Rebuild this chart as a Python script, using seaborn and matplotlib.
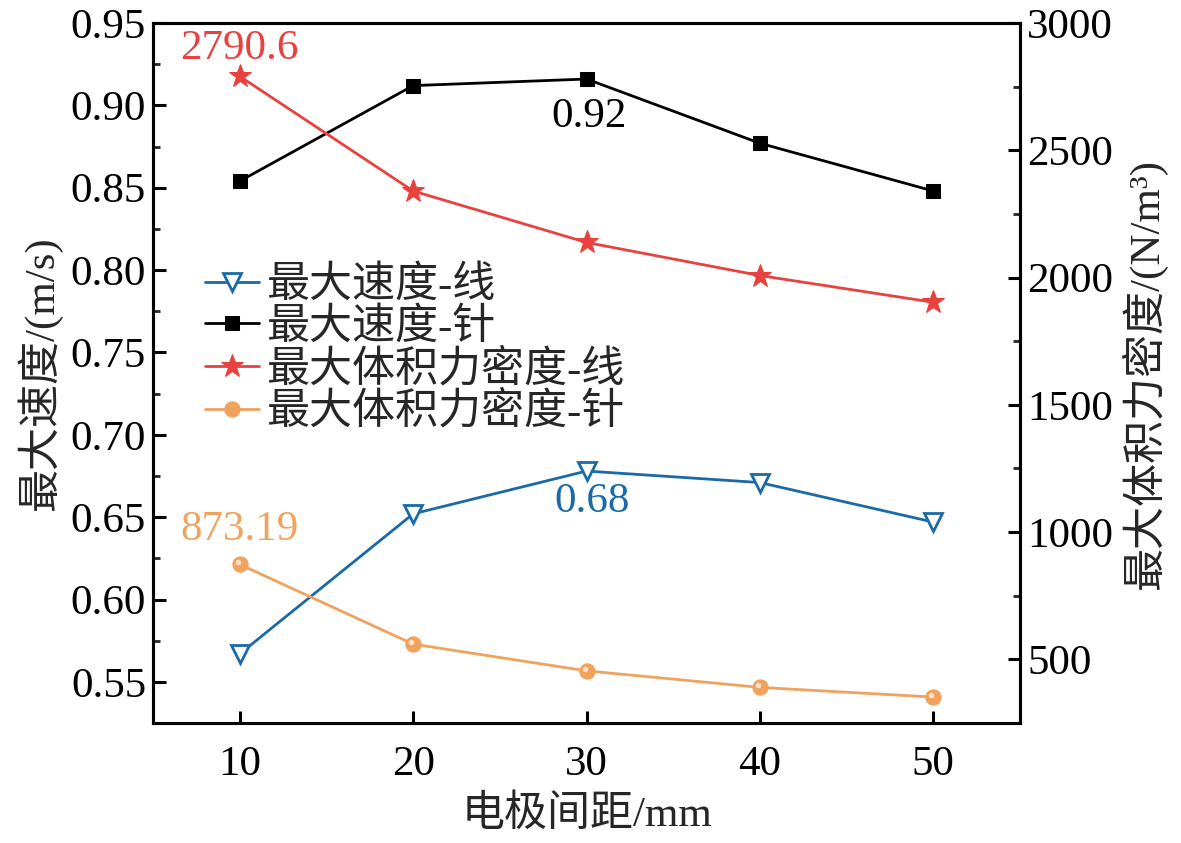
import matplotlib
matplotlib.use("Agg")
import matplotlib.pyplot as plt
import matplotlib.transforms as mtransforms
import seaborn as sns
import pandas as pd

# ---- data ----
spacing = [10, 20, 30, 40, 50]
speed_line = [0.567, 0.652, 0.678, 0.671, 0.647]
speed_needle = [0.854, 0.912, 0.916, 0.877, 0.848]
force_line = [2790.6, 2340, 2138, 2008, 1903]
force_needle = [873.19, 560, 455, 390, 352]

labels = ["最大速度-线", "最大速度-针", "最大体积力密度-线", "最大体积力密度-针"]
xlabel = "电极间距/mm"
ylabel_left = "最大速度/(m/s)"
ylabel_right = "最大体积力密度/(N/m³)"

c_blue = "#1a6aa8"
c_black = "#000000"
c_red = "#e8413e"
c_orange = "#f0a35e"

sns.set_theme(style="ticks")
plt.rcParams["font.family"] = ["Liberation Serif", "Noto Sans CJK SC"]
plt.rcParams["axes.unicode_minus"] = False

FS = 31
fig = plt.figure(figsize=(11.81, 8.43), dpi=100)
ax = fig.add_axes([0.1296, 0.1423, 0.7341, 0.8304])
ax2 = ax.twinx()

df = pd.DataFrame({"x": spacing, "sl": speed_line, "sn": speed_needle,
                   "fl": force_line, "fn": force_needle})

lw = 2.0
sns.lineplot(data=df, x="x", y="sl", ax=ax, color=c_blue, lw=lw, marker="v",
             markersize=13, markerfacecolor="white", markeredgecolor=c_blue,
             markeredgewidth=2.0, label=labels[0], legend=False)
sns.lineplot(data=df, x="x", y="sn", ax=ax, color=c_black, lw=lw, marker="s",
             markersize=10, markeredgecolor=c_black, label=labels[1], legend=False)
sns.lineplot(data=df, x="x", y="fl", ax=ax2, color=c_red, lw=lw, marker="*",
             markersize=17, markeredgecolor=c_red, label=labels[2], legend=False)
sns.lineplot(data=df, x="x", y="fn", ax=ax2, color=c_orange, lw=lw, marker="o",
             markersize=11, markeredgecolor=c_orange, label=labels[3], legend=False)
# highlight on the sphere markers
off = mtransforms.ScaledTranslation(-2/100, 2/100, fig.dpi_scale_trans)
ax2.plot(df["x"], df["fn"], ls="none", marker="o", markersize=4,
         color="#fbe0c6", markeredgewidth=0, transform=ax2.transData + off)

ax.set_xlim(5, 55)
ax.set_ylim(0.525, 0.95)
ax2.set_ylim(250, 3000)
ax.set_xticks(spacing)
yt = [0.55, 0.60, 0.65, 0.70, 0.75, 0.80, 0.85, 0.90, 0.95]
ax.set_yticks(yt)
ax.set_yticklabels([f"{v:.2f}" for v in yt])
ax.set_yticks([0.575, 0.625, 0.675, 0.725, 0.775, 0.825, 0.875, 0.925], minor=True)
ax2.set_yticks([500, 1000, 1500, 2000, 2500, 3000])
ax2.set_yticks([750, 1250, 1750, 2250, 2750], minor=True)

for a in (ax, ax2):
    for s in a.spines.values():
        s.set_linewidth(2.2)
        s.set_color("black")
    a.tick_params(which="major", direction="in", length=9, width=2.2,
                  labelsize=FS, colors="black", pad=5)
    a.tick_params(which="minor", direction="in", length=5, width=2.0)
ax.tick_params(axis="x", which="major", pad=16)
ax.tick_params(axis="y", which="both", right=False)
ax2.tick_params(axis="y", which="both", left=False)

ax.set_xlabel(xlabel, fontsize=FS, labelpad=8)
ax.set_ylabel(ylabel_left, fontsize=FS, labelpad=6)
ax2.set_ylabel(ylabel_right, fontsize=FS, labelpad=6, rotation=90)

# annotations
ax2.annotate(f"{force_line[0]}", (spacing[0], force_line[0]), xytext=(0, 20),
             textcoords="offset points", ha="center", va="center",
             color=c_red, fontsize=FS)
ax.annotate("0.92", (spacing[2], speed_needle[2]), xytext=(2, -27),
            textcoords="offset points", ha="center", va="center",
            color=c_black, fontsize=FS)
ax.annotate("0.68", (spacing[2], speed_line[2]), xytext=(4, -22),
            textcoords="offset points", ha="center", va="center",
            color=c_blue, fontsize=FS)
ax2.annotate(f"{force_needle[0]}", (spacing[0], force_needle[0]), xytext=(0, 25),
             textcoords="offset points", ha="center", va="center",
             color=c_orange, fontsize=FS)

h1, l1 = ax.get_legend_handles_labels()
h2, l2 = ax2.get_legend_handles_labels()
leg = ax2.legend(h1 + h2, l1 + l2, loc="upper left", bbox_to_anchor=(0.03, 0.69),
                 frameon=False, fontsize=FS, handlelength=1.25, handletextpad=0.2,
                 labelspacing=0.05, borderaxespad=0.2)

fig.savefig("out.png", dpi=100)
